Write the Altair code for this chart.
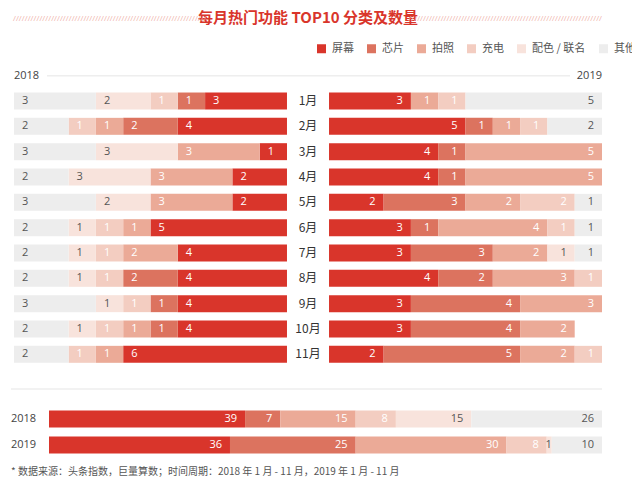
import altair as alt
import pandas as pd
import json, re

months = ["1月", "2月", "3月", "4月", "5月", "6月", "7月", "8月", "9月", "10月", "11月"]
categories = ["屏幕", "芯片", "拍照", "充电", "配色 / 联名", "其他"]
palette = ["#D9352B", "#DC735F", "#EBAA97", "#F3CDC1", "#F8E3DC", "#EDEDED"]
years = ["2018", "2019"]

y2018_screen = [3, 4, 1, 2, 2, 5, 4, 4, 4, 4, 6]
y2018_chip = [1, 2, 0, 0, 0, 0, 0, 2, 1, 1, 0]
y2018_photo = [0, 1, 3, 3, 3, 1, 2, 0, 0, 1, 1]
y2018_charge = [1, 1, 0, 0, 0, 1, 1, 1, 1, 1, 1]
y2018_color = [2, 0, 3, 3, 2, 1, 1, 1, 1, 1, 0]
y2018_other = [3, 2, 3, 2, 3, 2, 2, 2, 3, 2, 2]
y2019_screen = [3, 5, 4, 4, 2, 3, 3, 4, 3, 3, 2]
y2019_chip = [0, 1, 1, 1, 3, 1, 3, 2, 4, 4, 5]
y2019_photo = [1, 1, 5, 5, 2, 4, 2, 3, 3, 2, 2]
y2019_charge = [1, 1, 0, 0, 2, 1, 0, 1, 0, 0, 1]
y2019_color = [0, 0, 0, 0, 0, 0, 1, 0, 0, 0, 0]
y2019_other = [5, 2, 0, 0, 1, 1, 1, 0, 0, 0, 0]
total_2018 = [39, 7, 15, 8, 15, 26]
total_2019 = [36, 25, 30, 8, 1, 10]
title_text = "每月热门功能 TOP10 分类及数量"
footnote = "* 数据来源：头条指数，巨量算数；时间周期：2018 年 1 月 - 11 月，2019 年 1 月 - 11 月"
FONT = "Open Sans, Noto Sans CJK SC, sans-serif"
CJK = "Noto Sans CJK SC"

series = {"2018": [y2018_screen, y2018_chip, y2018_photo, y2018_charge, y2018_color, y2018_other],
          "2019": [y2019_screen, y2019_chip, y2019_photo, y2019_charge, y2019_color, y2019_other]}
rows = []
for yr, lists in series.items():
    for ci, vals in enumerate(lists):
        for mi, m in enumerate(months):
            rows.append({"year": yr, "month": m, "cat": categories[ci], "order": ci, "value": vals[mi]})
df = pd.DataFrame(rows)
trows = []
for yr, tot in zip(years, [total_2018, total_2019]):
    for ci, v in enumerate(tot):
        trows.append({"year": yr, "cat": categories[ci], "order": ci, "value": v})
tdf = pd.DataFrame(trows)


def build(hatch=True, ylab=True, foot=True, blab=True, sep=True):
    leg = alt.Legend(orient="none", legendX=302, legendY=-20, direction="horizontal", title=None,
                     symbolType="square", symbolSize=81, symbolStrokeWidth=0, labelFontSize=11,
                     labelColor="#555", labelFont=CJK, labelOffset=5, columnPadding=12)
    cscale = alt.Scale(domain=categories, range=palette)
    G = 0.77
    HALF = 10 + G
    xA = alt.Scale(domain=[-HALF, HALF], nice=False, zero=False)
    yA = alt.Scale(domain=["hdr"] + months, paddingInner=0.33, paddingOuter=0.165)
    srt = [alt.SortField(field="order", order="ascending")]
    stacked = (alt.Chart(df).transform_filter("datum.value > 0")
               .transform_stack(stack="value", groupby=["year", "month"], as_=["s0", "s1"], sort=srt)
               .transform_calculate(
                   xa=f"datum.year == '2018' ? -({G} + datum.s1) : {G} + datum.s0",
                   xb=f"datum.year == '2018' ? -({G} + datum.s0) : {G} + datum.s1",
                   lx=f"datum.year == '2018' ? -({G} + datum.s1) : {G} + datum.s1"))
    bars = stacked.mark_bar().encode(
        x=alt.X("xa:Q", scale=xA, axis=None), x2="xb:Q",
        y=alt.Y("month:N", scale=yA, axis=None),
        color=alt.Color("cat:N", scale=cscale, legend=leg))
    txtcolor = alt.condition("datum.order >= 4", alt.value("#555555"), alt.value("#ffffff"))
    layers = [bars]
    layers.append(stacked.transform_filter("datum.year == '2018'").mark_text(
        align="left", dx=8, fontSize=11, baseline="middle").encode(
        x="lx:Q", y="month:N", text="value:Q", color=txtcolor))
    layers.append(stacked.transform_filter("datum.year == '2019'").mark_text(
        align="right", dx=-8, fontSize=11, baseline="middle").encode(
        x="lx:Q", y="month:N", text="value:Q", color=txtcolor))
    layers.append(alt.Chart(pd.DataFrame({"month": months})).transform_calculate(zero="0").mark_text(
        fontSize=12, color="#333", font=CJK).encode(x="zero:Q", y="month:N", text="month:N"))
    hdr = pd.DataFrame({"row": ["hdr", "hdr"], "label": years, "pos": [-HALF, HALF]})
    layers.append(alt.Chart(hdr).transform_filter("datum.label == '2018'").mark_text(
        align="left", fontSize=11, color="#444").encode(x="pos:Q", y="row:N", text="label:N"))
    layers.append(alt.Chart(hdr).transform_filter("datum.label == '2019'").mark_text(
        align="right", fontSize=11, color="#444").encode(x="pos:Q", y="row:N", text="label:N"))
    layers.append(alt.Chart(pd.DataFrame({"row": ["hdr"]})).mark_rule(color="#EEEEEE", strokeWidth=1.5).encode(
        x=alt.value(33), x2=alt.value(556), y="row:N"))
    layers.append(alt.Chart(pd.DataFrame({"t": [title_text]})).mark_text(
        fontSize=15, fontWeight="bold", color="#D9352B", font=CJK).encode(
        x=alt.value(294), y=alt.value(-45), text="t:N"))
    if hatch:
        hd = pd.DataFrame({"h": ["/" * 66], "side": ["l"]})
        layers.append(alt.Chart(hd).mark_text(fontSize=8, color="#F0B4AC", align="left").encode(
            x=alt.value(-1), y=alt.value(-44), text="h:N"))
        hd2 = pd.DataFrame({"h": ["/" * 66], "side": ["r"]})
        layers.append(alt.Chart(hd2).mark_text(fontSize=8, color="#F0B4AC", align="right").encode(
            x=alt.value(588), y=alt.value(-44), text="h:N"))
    top = alt.layer(*layers).properties(width=588, height=304)

    PX = 553 / 110.0
    xB = alt.Scale(domain=[-35 / PX, 110], nice=False, zero=False)
    yB = alt.Scale(domain=years, paddingInner=0.346, paddingOuter=0.173)
    tstack = (alt.Chart(tdf)
              .transform_stack(stack="value", groupby=["year"], as_=["s0", "s1"], sort=srt)
              .transform_calculate(lx=f"datum.value < 2 ? datum.s1 : datum.s1 - {8 / PX}"))
    blayers = [tstack.mark_bar().encode(
        x=alt.X("s0:Q", scale=xB, axis=None), x2="s1:Q",
        y=alt.Y("year:N", scale=yB, axis=None),
        color=alt.Color("cat:N", scale=cscale, legend=leg))]
    if blab:
        blayers.append(tstack.mark_text(align="right", fontSize=11, baseline="middle").encode(
            x="lx:Q", y="year:N", text="value:Q",
            color=alt.condition("datum.order >= 4 || datum.value < 2", alt.value("#555555"), alt.value("#ffffff"))))
    if ylab:
        blayers.append(alt.Chart(pd.DataFrame({"yl": years})).mark_text(
            align="left", fontSize=11, color="#444").encode(x=alt.value(-3), y=alt.Y("yl:N"), text="yl:N"))
    if sep:
        blayers.append(alt.Chart(pd.DataFrame({"k": ["a"]})).mark_rule(color="#EEEEEE", strokeWidth=1.5).encode(
            x=alt.value(-3), x2=alt.value(588), y=alt.value(-17), detail="k:N"))
    if foot:
        blayers.append(alt.Chart(pd.DataFrame({"f": [footnote]})).mark_text(
            align="left", fontSize=10, color="#555", font=CJK).encode(
            x=alt.value(-3), y=alt.value(66), text="f:N"))
    bottom = alt.layer(*blayers).properties(width=588, height=52)
    return (alt.vconcat(top, bottom, spacing=39, bounds="flush")
            .properties(padding={"left": 2, "top": 3, "right": 2, "bottom": 0})
            .configure(font=FONT).configure_view(stroke=None))


chart = build()
chart.save("out.html", embed_options={"renderer": "svg", "actions": False})

variants = {"no_hatch": build(hatch=False), "no_ylab": build(ylab=False), "no_foot": build(foot=False),
            "no_blab": build(blab=False), "no_sep": build(sep=False),
            "none": build(hatch=False, ylab=False, foot=False, blab=False, sep=False)}
html = open("out.html", encoding="utf-8").read()
scripts = re.findall(r'<script[^>]*src="[^"]*"[^>]*>\s*</script>', html)
page = "<!DOCTYPE html><html><head><meta charset='utf-8'>" + "".join(scripts) + "</head><body style='margin:8px'>"
page += "<div id='vis'></div><pre id='log' style='font-size:10px;white-space:pre-wrap;width:620px;position:absolute;left:8px;top:8px'></pre><div id='hid' style='position:absolute;left:0;top:3000px'></div>"
page += "<script>const main=" + json.dumps(chart.to_dict()) + ";const specs=" + json.dumps({k: v.to_dict() for k, v in variants.items()}) + ";\n"
page += """
const log=document.getElementById('log');
(async ()=>{
try { await vegaEmbed('#vis', main, {renderer:'svg', actions:false}); }
catch(e) {
  log.textContent += 'main: ERR ' + e.message + '\\n';
  for (const k of Object.keys(specs)) {
    const d=document.createElement('div'); document.getElementById('hid').appendChild(d);
    try { await vegaEmbed(d, specs[k], {renderer:'svg', actions:false}); log.textContent += k + ': OK\\n'; }
    catch(e2) { log.textContent += k + ': ERR ' + e2.message + '\\n'; }
  }
}
})();
</script></body></html>"""
open("out.html", "w", encoding="utf-8").write(page)
